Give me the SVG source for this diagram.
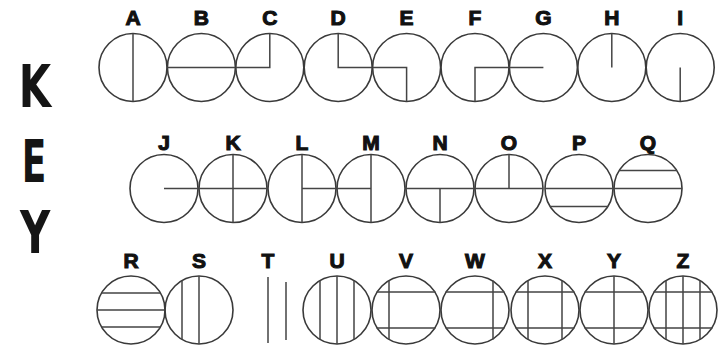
<svg xmlns="http://www.w3.org/2000/svg" width="721" height="349" viewBox="0 0 721 349">
<style>
.c{fill:none;stroke:#3a3a3a;stroke-width:1.6}
.l{stroke:#444;stroke-width:1.5;fill:none}
.t{font-family:"Liberation Sans",Arial,sans-serif;font-weight:bold;font-size:21px;fill:#111;stroke:#111;stroke-width:1.1;text-anchor:middle}
.k{font-family:"DejaVu Sans",sans-serif;font-weight:bold;font-size:58px;fill:#151515;text-anchor:middle}
</style>
<rect width="721" height="349" fill="#fff"/>
<g id="key">
<text class="k" transform="translate(35,107) scale(0.72,1)">K</text>
<text class="k" transform="translate(34,182) scale(0.62,1)">E</text>
<text class="k" transform="translate(35,253) scale(0.72,1)">Y</text>
</g>
<!-- Row 1 cy=67.5 r=34 -->
<g id="A"><text class="t" x="133" y="25">A</text><circle class="c" cx="133" cy="67.5" r="34"/><path class="l" d="M133 33.5V101.5"/></g>
<g id="B"><text class="t" x="201.4" y="25">B</text><circle class="c" cx="201.4" cy="67.5" r="34"/><path class="l" d="M167.4 67.5H235.4"/></g>
<g id="C"><text class="t" x="269.8" y="25">C</text><circle class="c" cx="269.8" cy="67.5" r="34"/><path class="l" d="M235.8 67.5H269.8V33.5"/></g>
<g id="D"><text class="t" x="338.2" y="25">D</text><circle class="c" cx="338.2" cy="67.5" r="34"/><path class="l" d="M338.2 33.5V67.5H372.2"/></g>
<g id="E"><text class="t" x="406.6" y="25">E</text><circle class="c" cx="406.6" cy="67.5" r="34"/><path class="l" d="M372.6 67.5H406.6V101.5"/></g>
<g id="F"><text class="t" x="475" y="25">F</text><circle class="c" cx="475" cy="67.5" r="34"/><path class="l" d="M475 101.5V67.5H509"/></g>
<g id="G"><text class="t" x="543.4" y="25">G</text><circle class="c" cx="543.4" cy="67.5" r="34"/><path class="l" d="M509.4 67.5H543.4"/></g>
<g id="H"><text class="t" x="611.8" y="25">H</text><circle class="c" cx="611.8" cy="67.5" r="34"/><path class="l" d="M611.8 33.5V67.5"/></g>
<g id="I"><text class="t" x="680.2" y="25">I</text><circle class="c" cx="680.2" cy="67.5" r="34"/><path class="l" d="M680.2 67.5V101.5"/></g>
<!-- Row 2 cy=188.5 -->
<g id="J"><text class="t" x="164" y="150">J</text><circle class="c" cx="164" cy="188.5" r="34"/><path class="l" d="M164 188.5H198"/></g>
<g id="K"><text class="t" x="233" y="150">K</text><circle class="c" cx="233" cy="188.5" r="34"/><path class="l" d="M199 188.5H267M233 154.5V222.5"/></g>
<g id="L"><text class="t" x="302" y="150">L</text><circle class="c" cx="302" cy="188.5" r="34"/><path class="l" d="M302 154.5V222.5M302 188.5H336"/></g>
<g id="M"><text class="t" x="371" y="150">M</text><circle class="c" cx="371" cy="188.5" r="34"/><path class="l" d="M371 154.5V222.5M337 188.5H371"/></g>
<g id="N"><text class="t" x="440" y="150">N</text><circle class="c" cx="440" cy="188.5" r="34"/><path class="l" d="M406 188.5H474M440 188.5V222.5"/></g>
<g id="O"><text class="t" x="509" y="150">O</text><circle class="c" cx="509" cy="188.5" r="34"/><path class="l" d="M475 188.5H543M509 154.5V188.5"/></g>
<g id="P"><text class="t" x="579" y="150">P</text><circle class="c" cx="579" cy="188.5" r="34"/><path class="l" d="M545 188.5H613M550 206.5H608"/></g>
<g id="Q"><text class="t" x="648" y="150">Q</text><circle class="c" cx="648" cy="188.5" r="34"/><path class="l" d="M614 188.5H682M619 170.5H677"/></g>
<!-- Row 3 cy=310 -->
<g id="R"><text class="t" x="131" y="268">R</text><circle class="c" cx="131" cy="310" r="34"/><path class="l" d="M97 310H165M101.6 293H160.4M101.6 327H160.4"/></g>
<g id="S"><text class="t" x="199" y="268">S</text><circle class="c" cx="199" cy="310" r="34"/><path class="l" d="M199 276V344M182 280.6V339.4"/></g>
<g id="T"><text class="t" x="268" y="268">T</text><path class="l" d="M268 277V343M286 282V340"/></g>
<g id="U"><text class="t" x="337" y="268">U</text><circle class="c" cx="337" cy="310" r="34"/><path class="l" d="M337 276V344M320 280.6V339.4M354 280.6V339.4"/></g>
<g id="V"><text class="t" x="406" y="268">V</text><circle class="c" cx="406" cy="310" r="34"/><path class="l" d="M376.6 292H435.4M376.6 328H435.4M389 280.6V339.4"/></g>
<g id="W"><text class="t" x="475" y="268">W</text><circle class="c" cx="475" cy="310" r="34"/><path class="l" d="M445.6 292H504.4M445.6 328H504.4M493 280.6V339.4"/></g>
<g id="X"><text class="t" x="545" y="268">X</text><circle class="c" cx="545" cy="310" r="34"/><path class="l" d="M515.6 292H574.4M515.6 328H574.4M528 280.6V339.4M562 280.6V339.4"/></g>
<g id="Y"><text class="t" x="614" y="268">Y</text><circle class="c" cx="614" cy="310" r="34"/><path class="l" d="M584.6 292H643.4M584.6 328H643.4M614 276V344"/></g>
<g id="Z"><text class="t" x="683" y="268">Z</text><circle class="c" cx="683" cy="310" r="34"/><path class="l" d="M653.6 292H712.4M653.6 328H712.4M683 276V344M666 280.6V339.4M700 280.6V339.4"/></g>
<g id="connectors"/>
</svg>
